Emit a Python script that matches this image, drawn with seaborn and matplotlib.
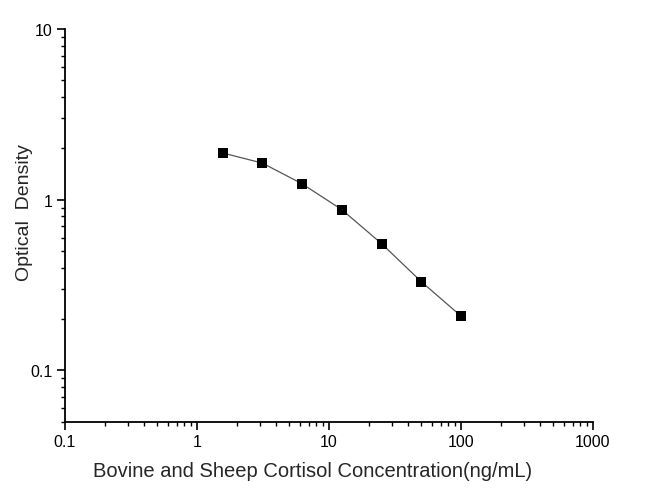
import matplotlib
matplotlib.use("Agg")
import matplotlib.pyplot as plt
import seaborn as sns
import pandas as pd
from matplotlib.ticker import LogLocator, FixedLocator, FixedFormatter, NullFormatter

concentration = [1.5625, 3.125, 6.25, 12.5, 25, 50, 100]
optical_density = [1.88, 1.64, 1.24, 0.875, 0.553, 0.331, 0.208]
x_ticks = [0.1, 1, 10, 100, 1000]
x_tick_labels = ["0.1", "1", "10", "100", "1000"]
y_ticks = [0.1, 1, 10]
y_tick_labels = ["0.1", "1", "10"]

sns.set_theme(style="ticks")
plt.rcParams['font.family'] = ['Liberation Sans', 'DejaVu Sans']

df = pd.DataFrame({"conc": concentration, "od": optical_density})

fig = plt.figure(figsize=(6.5, 5.02), dpi=100)
ax = fig.add_axes([0.1, 0.158, 0.8123, 0.782])

sns.lineplot(data=df, x="conc", y="od", ax=ax, color="#555555", linewidth=0.9,
             marker="s", markersize=6.5, markerfacecolor="black",
             markeredgecolor="black", markeredgewidth=0)

ax.set_xscale("log")
ax.set_yscale("log")
ax.set_xlim(0.1, 1000)
ax.set_ylim(0.05, 10)

ax.xaxis.set_major_locator(FixedLocator(x_ticks))
ax.xaxis.set_major_formatter(FixedFormatter(x_tick_labels))
ax.yaxis.set_major_locator(FixedLocator(y_ticks))
ax.yaxis.set_major_formatter(FixedFormatter(y_tick_labels))
ax.xaxis.set_minor_locator(LogLocator(base=10, subs=range(2, 10), numticks=20))
ax.yaxis.set_minor_locator(LogLocator(base=10, subs=range(2, 10), numticks=20))
ax.xaxis.set_minor_formatter(NullFormatter())
ax.yaxis.set_minor_formatter(NullFormatter())

ax.tick_params(axis="both", which="major", direction="out", length=6, width=1.2,
               labelsize=11.5, colors="black", pad=3)
ax.tick_params(axis="both", which="minor", direction="out", length=3, width=1.0,
               colors="black")

for s in ["top", "right"]:
    ax.spines[s].set_visible(False)
for s in ["left", "bottom"]:
    ax.spines[s].set_linewidth(1.3)
    ax.spines[s].set_color("black")

ax.set_xlabel("Bovine and Sheep Cortisol Concentration(ng/mL)", fontsize=14.5)
ax.set_ylabel("Optical  Density", fontsize=14)
ax.xaxis.set_label_coords(0.468, -0.099)
ax.yaxis.set_label_coords(-0.06, 0.535)

fig.savefig("out.png", dpi=100, facecolor="white")
